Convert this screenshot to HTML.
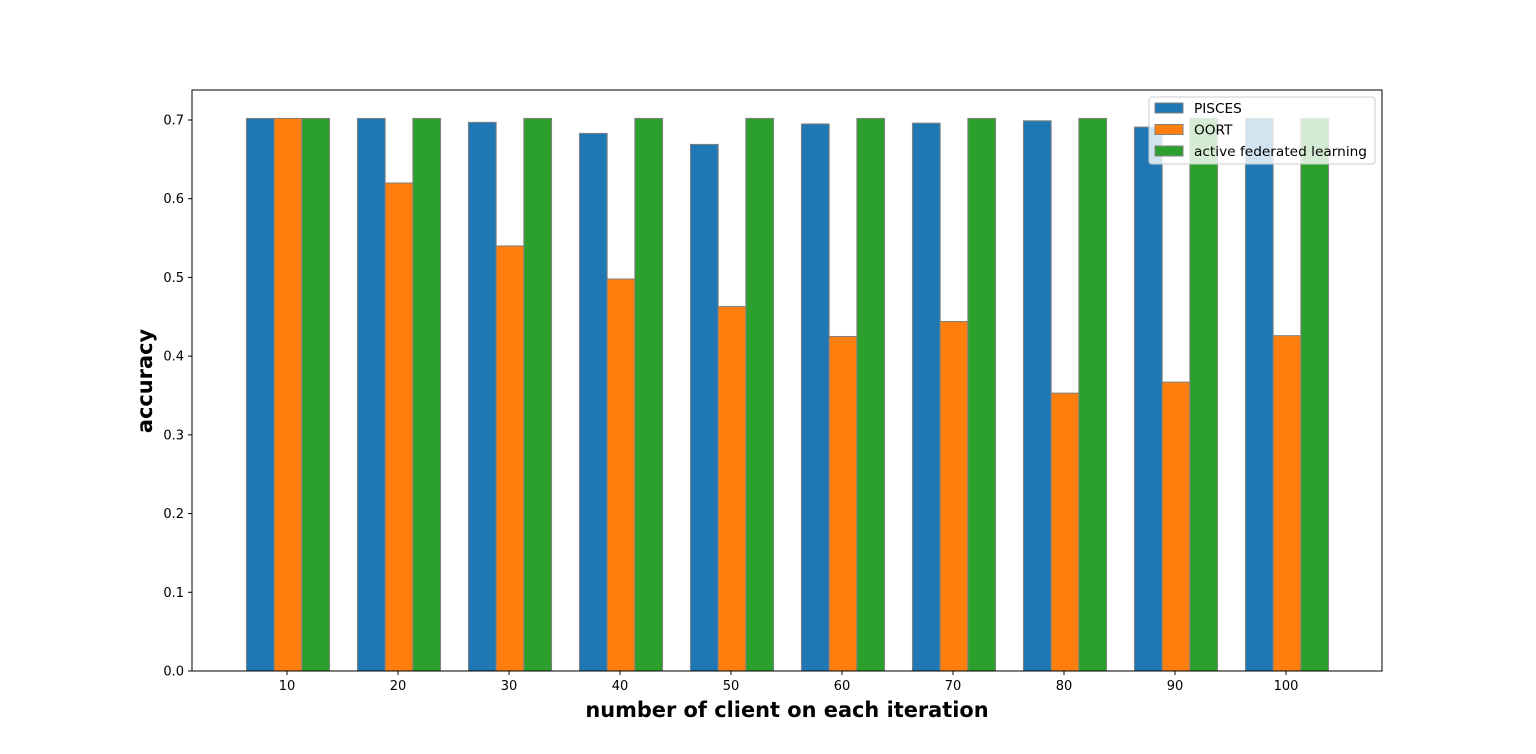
<!DOCTYPE html>
<html><head><meta charset="utf-8"><style>
body{margin:0;background:#fff;}
svg{display:block;font-family:"DejaVu Sans","Liberation Sans",sans-serif;}
</style></head><body>
<svg id="chart" width="1536" height="754"></svg>
<script>
const categories=["10","20","30","40","50","60","70","80","90","100"];
const pisces=[0.702,0.702,0.697,0.683,0.669,0.695,0.696,0.699,0.691,0.702];
const oort=[0.702,0.620,0.540,0.498,0.463,0.425,0.444,0.353,0.367,0.426];
const afl=[0.702,0.702,0.702,0.702,0.702,0.702,0.702,0.702,0.702,0.702];
const yTicks=[0,0.1,0.2,0.3,0.4,0.5,0.6,0.7];
const seriesNames=["PISCES","OORT","active federated learning"];
const colors=["#1f77b4","#ff7f0e","#2ca02c"];
const L=192,R=1382,T=90,B=671;
const NS="http://www.w3.org/2000/svg";
const svg=document.getElementById('chart');
function el(t,a,p){const e=document.createElementNS(NS,t);for(const k in a)e.setAttribute(k,a[k]);(p||svg).appendChild(e);return e;}
const y=v=>B-v*(B-120)/0.7;
const xc=i=>288+i*111;
const bw=27.7;
const series=[pisces,oort,afl];
series.forEach((s,si)=>{s.forEach((v,i)=>{
 const r=el('rect',{x:xc(i)-bw*1.5+si*bw,y:y(v),width:bw,height:B-y(v),fill:colors[si],stroke:'#808080','stroke-width':1});
 
 
});});
const ax=el('rect',{x:L,y:T,width:R-L,height:B-T,fill:'none',stroke:'#000','stroke-width':1});

yTicks.forEach(t=>{
 el('line',{x1:L-4,x2:L,y1:y(t),y2:y(t),stroke:'#000'});
 const tx=el('text',{x:L-8,y:y(t)+4.5,'text-anchor':'end','font-size':13});tx.textContent=t.toFixed(1);
 
});
categories.forEach((c,i)=>{
 el('line',{x1:xc(i)-1,x2:xc(i)-1,y1:B,y2:B+4,stroke:'#000'});
 const tx=el('text',{x:xc(i)-1,y:B+19,'text-anchor':'middle','font-size':13});tx.textContent=c;
 
});
const xt=el('text',{x:787,y:717,'text-anchor':'middle','font-size':20.9,'font-weight':'bold'});xt.textContent='number of client on each iteration';

const yt=el('text',{x:0,y:0,'text-anchor':'middle','font-size':20.9,'font-weight':'bold',transform:'translate(152,381) rotate(-90)'});yt.textContent='accuracy';

const lg=el('g',{});

el('rect',{x:1149,y:97,width:226,height:67,rx:3,fill:'rgba(255,255,255,0.8)',stroke:'#ccc'},lg);
seriesNames.forEach((n,i)=>{
 const yy=108+i*21.5;
 el('rect',{x:1155,y:yy-5,width:28,height:10,fill:colors[i],stroke:'#808080'},lg);
 const tx=el('text',{x:1194,y:yy+5,'font-size':13.7},lg);tx.textContent=n;
 
});
</script>
</body></html>
